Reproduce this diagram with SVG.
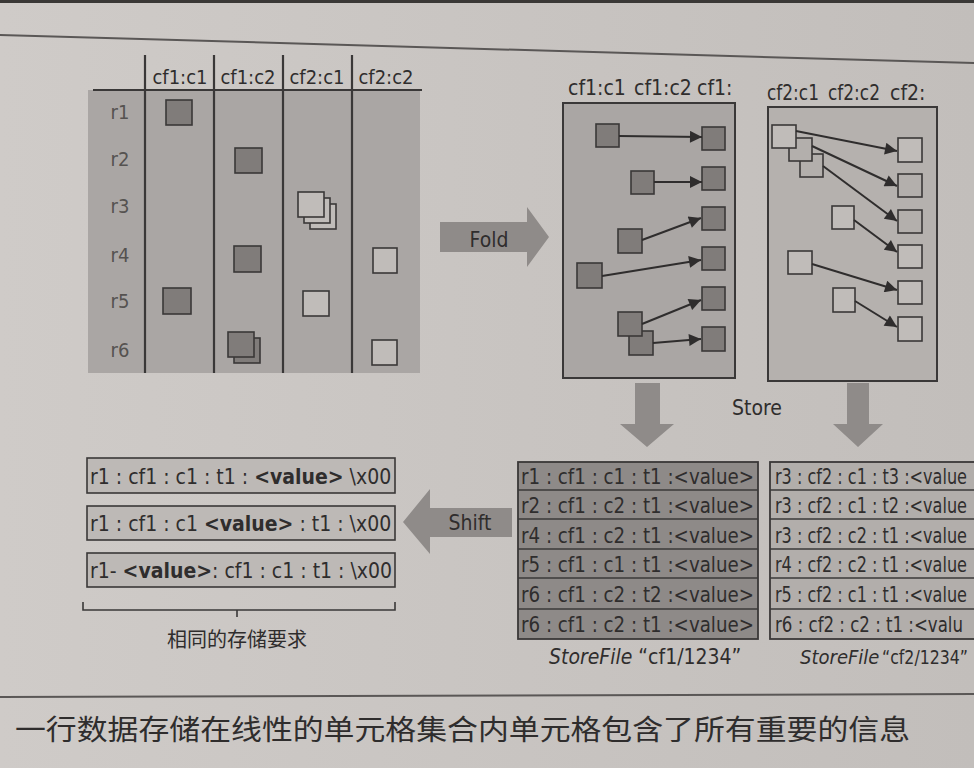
<svg xmlns="http://www.w3.org/2000/svg" width="974" height="768" viewBox="0 0 974 768">
<defs>
<linearGradient id="page" x1="0" y1="0" x2="1" y2="0">
<stop offset="0" stop-color="#cfcbc8"/><stop offset="1" stop-color="#c2bebb"/>
</linearGradient>
<marker id="ah" viewBox="0 0 10 10" refX="10" refY="5" markerUnits="userSpaceOnUse" markerWidth="14" markerHeight="12" orient="auto">
<path d="M0,0 L10,5 L0,10 z" fill="#2f2d2d"/>
</marker>
</defs>
<style>
.t{font-family:"Liberation Sans Narrow","DejaVu Sans Condensed","Liberation Sans",sans-serif;fill:#2f2d2d}
.cjk{font-family:"Noto Sans CJK SC","Noto Sans",sans-serif;fill:#2f2d2d}
.fs{fill:#807c7a;stroke:#3a3838;stroke-width:1.6}
.os{fill:#c0bcb9;stroke:#3a3838;stroke-width:1.6}
.os2{fill:#b3afac;stroke:#3a3838;stroke-width:1.6}
.ln{stroke:#3a3838;stroke-width:2.2;fill:none}
.ar{stroke:#2f2d2d;stroke-width:2;fill:none;marker-end:url(#ah)}
.big{fill:#8f8b89}
.box{fill:#bdb9b6;stroke:#3a3838;stroke-width:1.6}
.row{stroke:#3a3838;stroke-width:1.4}
</style>
<rect x="0" y="0" width="974" height="768" fill="url(#page)"/>
<rect x="0" y="0" width="974" height="3" fill="#3a3836"/>
<line x1="0" y1="35" x2="974" y2="63" stroke="#5a5756" stroke-width="2"/>
<line x1="0" y1="697" x2="974" y2="694" stroke="#5a5756" stroke-width="2"/>

<g id="table">
<rect x="88" y="90" width="332" height="283" fill="#aaa6a4"/>
<line class="ln" x1="93" y1="90" x2="422" y2="90"/>
<line class="ln" x1="145" y1="55" x2="145" y2="373"/>
<line class="ln" x1="214" y1="55" x2="214" y2="373"/>
<line class="ln" x1="283" y1="55" x2="283" y2="373"/>
<line class="ln" x1="352" y1="55" x2="352" y2="373"/>
<text class="t" x="180" y="84" font-size="20" text-anchor="middle">cf1:c1</text>
<text class="t" x="248" y="84" font-size="20" text-anchor="middle">cf1:c2</text>
<text class="t" x="317" y="84" font-size="20" text-anchor="middle">cf2:c1</text>
<text class="t" x="386" y="84" font-size="20" text-anchor="middle">cf2:c2</text>
<g class="t" font-size="20" text-anchor="middle" style="fill:#555250">
<text x="120" y="119">r1</text>
<text x="120" y="166">r2</text>
<text x="120" y="213">r3</text>
<text x="120" y="262">r4</text>
<text x="120" y="308">r5</text>
<text x="120" y="357">r6</text>
</g>
<rect class="fs" x="166" y="100" width="26" height="25"/>
<rect class="fs" x="235" y="148" width="27" height="25"/>
<rect class="os" x="310" y="204" width="26" height="25"/>
<rect class="os" x="304" y="198" width="26" height="25"/>
<rect class="os" x="298" y="192" width="26" height="25"/>
<rect class="fs" x="234" y="246" width="27" height="26"/>
<rect class="os" x="373" y="248" width="24" height="25"/>
<rect class="fs" x="163" y="288" width="28" height="26"/>
<rect class="os" x="303" y="291" width="26" height="25"/>
<rect class="fs" x="234" y="338" width="26" height="25"/>
<rect class="fs" x="228" y="332" width="26" height="25"/>
<rect class="os" x="372" y="340" width="25" height="25"/>
</g>

<g id="cf1-panel">
<text class="t" x="568" y="95" font-size="21">cf1:c1</text>
<text class="t" x="634" y="95" font-size="21">cf1:c2</text>
<text class="t" x="697" y="95" font-size="21">cf1:</text>
<rect x="563" y="103" width="172" height="275" fill="#aaa6a4" stroke="#3a3838" stroke-width="2"/>
<rect class="fs" x="596" y="124" width="23" height="23"/>
<rect class="fs" x="631" y="171" width="23" height="23"/>
<rect class="fs" x="618" y="229" width="24" height="24"/>
<rect class="fs" x="577" y="263" width="25" height="25"/>
<rect class="fs" x="629" y="331" width="24" height="24"/>
<rect class="fs" x="618" y="312" width="24" height="24"/>
<rect class="fs" x="702" y="127" width="23" height="23"/>
<rect class="fs" x="702" y="167" width="23" height="23"/>
<rect class="fs" x="702" y="207" width="23" height="23"/>
<rect class="fs" x="702" y="247" width="23" height="23"/>
<rect class="fs" x="702" y="287" width="23" height="23"/>
<rect class="fs" x="702" y="327" width="23" height="24"/>
</g>

<g id="cf2-panel">
<text class="t" x="767" y="100" font-size="21" textLength="52" lengthAdjust="spacingAndGlyphs">cf2:c1</text>
<text class="t" x="828" y="100" font-size="21" textLength="52" lengthAdjust="spacingAndGlyphs">cf2:c2</text>
<text class="t" x="890" y="100" font-size="21">cf2:</text>
<rect x="768" y="107" width="169" height="274" fill="#b5b1ae" stroke="#3a3838" stroke-width="2"/>
<rect class="os2" x="800" y="154" width="23" height="23"/>
<rect class="os2" x="789" y="138" width="23" height="23"/>
<rect class="os" x="772" y="125" width="24" height="23"/>
<rect class="os" x="832" y="206" width="22" height="23"/>
<rect class="os" x="788" y="251" width="24" height="23"/>
<rect class="os" x="833" y="288" width="22" height="24"/>
<rect class="os" x="898" y="138" width="24" height="24"/>
<rect class="os2" x="898" y="174" width="24" height="23"/>
<rect class="os2" x="898" y="210" width="24" height="23"/>
<rect class="os" x="898" y="245" width="24" height="23"/>
<rect class="os" x="898" y="281" width="24" height="23"/>
<rect class="os" x="898" y="317" width="24" height="24"/>
</g>

<g id="connectors">
<line class="ar" x1="619" y1="136" x2="702" y2="137"/>
<line class="ar" x1="654" y1="182" x2="702" y2="182"/>
<line class="ar" x1="642" y1="240" x2="701" y2="218"/>
<line class="ar" x1="602" y1="276" x2="701" y2="260"/>
<line class="ar" x1="642" y1="324" x2="701" y2="300"/>
<line class="ar" x1="653" y1="343" x2="701" y2="339"/>
<line class="ar" x1="796" y1="131" x2="897" y2="151"/>
<line class="ar" x1="812" y1="146" x2="897" y2="186"/>
<line class="ar" x1="823" y1="166" x2="897" y2="221"/>
<line class="ar" x1="854" y1="220" x2="897" y2="252"/>
<line class="ar" x1="812" y1="264" x2="897" y2="290"/>
<line class="ar" x1="855" y1="301" x2="897" y2="327"/>
</g>

<g id="fold">
<polygon class="big" points="440,222 527,222 527,207 549,237 527,267 527,252 440,252"/>
<text class="t" x="489" y="247" font-size="21" text-anchor="middle">Fold</text>
</g>

<g id="store">
<polygon class="big" points="635,383 660,383 660,424 674,424 647,447 620,424 635,424"/>
<polygon class="big" points="847,383 869,383 869,424 883,424 858,447 833,424 847,424"/>
<text class="t" x="757" y="415" font-size="21" text-anchor="middle">Store</text>
</g>

<g id="shift">
<polygon class="big" points="512,508 430,508 430,489 403,522 430,554 430,537 512,537"/>
<text class="t" x="470" y="530" font-size="21" text-anchor="middle">Shift</text>
</g>

<g id="storefile-cf1">
<rect x="518" y="462" width="240" height="177" fill="#8e8a88" stroke="#3a3838" stroke-width="1.8"/>
<line class="row" x1="518" y1="490" x2="758" y2="490"/>
<line class="row" x1="518" y1="519" x2="758" y2="519"/>
<line class="row" x1="518" y1="549" x2="758" y2="549"/>
<line class="row" x1="518" y1="578" x2="758" y2="578"/>
<line class="row" x1="518" y1="609" x2="758" y2="609"/>
<g class="t" font-size="22">
<text x="521" y="484" textLength="233" lengthAdjust="spacingAndGlyphs">r1 : cf1 : c1 : t1 :&lt;value&gt;</text>
<text x="521" y="513" textLength="233" lengthAdjust="spacingAndGlyphs">r2 : cf1 : c2 : t1 :&lt;value&gt;</text>
<text x="521" y="543" textLength="233" lengthAdjust="spacingAndGlyphs">r4 : cf1 : c2 : t1 :&lt;value&gt;</text>
<text x="521" y="572" textLength="233" lengthAdjust="spacingAndGlyphs">r5 : cf1 : c1 : t1 :&lt;value&gt;</text>
<text x="521" y="602" textLength="233" lengthAdjust="spacingAndGlyphs">r6 : cf1 : c2 : t2 :&lt;value&gt;</text>
<text x="521" y="632" textLength="233" lengthAdjust="spacingAndGlyphs">r6 : cf1 : c2 : t1 :&lt;value&gt;</text>
</g>
<text class="t" x="549" y="664" font-size="21"><tspan font-style="italic">StoreFile</tspan> “cf1/1234”</text>
</g>

<g id="storefile-cf2">
<rect x="770" y="462" width="220" height="177" fill="#b2aeab" stroke="#3a3838" stroke-width="1.8"/>
<line class="row" x1="770" y1="490" x2="974" y2="490"/>
<line class="row" x1="770" y1="519" x2="974" y2="519"/>
<line class="row" x1="770" y1="549" x2="974" y2="549"/>
<line class="row" x1="770" y1="578" x2="974" y2="578"/>
<line class="row" x1="770" y1="609" x2="974" y2="609"/>
<g class="t" font-size="22">
<text x="775" y="484" textLength="192" lengthAdjust="spacingAndGlyphs">r3 : cf2 : c1 : t3 :&lt;value</text>
<text x="775" y="513" textLength="192" lengthAdjust="spacingAndGlyphs">r3 : cf2 : c1 : t2 :&lt;value</text>
<text x="775" y="543" textLength="192" lengthAdjust="spacingAndGlyphs">r3 : cf2 : c2 : t1 :&lt;value</text>
<text x="775" y="572" textLength="192" lengthAdjust="spacingAndGlyphs">r4 : cf2 : c2 : t1 :&lt;value</text>
<text x="775" y="602" textLength="192" lengthAdjust="spacingAndGlyphs">r5 : cf2 : c1 : t1 :&lt;value</text>
<text x="775" y="632" textLength="188" lengthAdjust="spacingAndGlyphs">r6 : cf2 : c2 : t1 :&lt;valu</text>
</g>
<text class="t" x="800" y="664" font-size="20" font-style="italic">StoreFile</text>
<text class="t" x="882" y="664" font-size="20" textLength="86" lengthAdjust="spacingAndGlyphs">“cf2/1234”</text>
</g>

<g id="key-variants">
<rect class="box" x="87" y="458" width="308" height="35"/>
<rect class="box" x="87" y="506" width="308" height="34"/>
<rect class="box" x="87" y="553" width="308" height="34"/>
<text class="t" x="90" y="484" font-size="21">r1 : cf1 : c1 : t1 : <tspan font-weight="bold">&lt;value&gt;</tspan> \x00</text>
<text class="t" x="90" y="531" font-size="21">r1 : cf1 : c1 <tspan font-weight="bold">&lt;value&gt;</tspan> : t1 : \x00</text>
<text class="t" x="90" y="578" font-size="21">r1- <tspan font-weight="bold">&lt;value&gt;</tspan>: cf1 : c1 : t1 : \x00</text>
<path d="M83,602 L83,610 L395,610 L395,602 M237,610 L237,617" stroke="#3a3838" stroke-width="1.6" fill="none"/>
<text class="cjk" x="237" y="647" font-size="20" text-anchor="middle">相同的存储要求</text>
</g>

<g id="caption">
<text class="cjk" x="15" y="740" font-size="28" textLength="895" lengthAdjust="spacingAndGlyphs">一行数据存储在线性的单元格集合内单元格包含了所有重要的信息</text>
</g>
</svg>
